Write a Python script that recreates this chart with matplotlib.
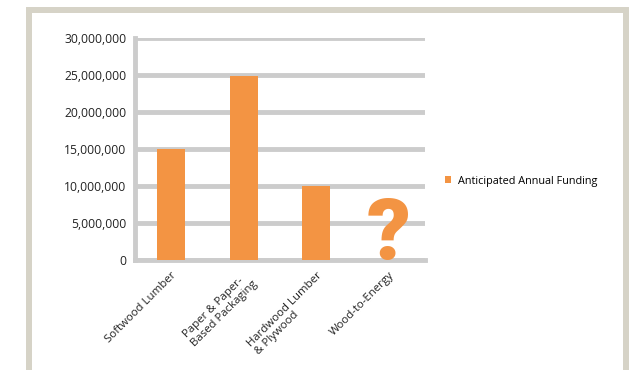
import numpy as np
import matplotlib.pyplot as plt
from matplotlib.patches import Rectangle
from matplotlib.ticker import FuncFormatter

categories = ['Softwood Lumber', 'Paper & Paper-\nBased Packaging',
              'Hardwood Lumber\n& Plywood', 'Wood-to-Energy']
funding = [15000000, 24800000, 10000000, 0]
unknown = [False, False, False, True]
series_name = 'Anticipated Annual Funding'

orange = '#f39443'
grid_grey = '#cccccc'

plt.rcParams['font.family'] = ['Open Sans', 'DejaVu Sans']

fig = plt.figure(figsize=(6.31, 3.70), dpi=100)
# outer frame (bottom edge runs off the image)
fig.patches.append(Rectangle((29 / 631, -2 / 370), 597 / 631, 362 / 370,
                             transform=fig.transFigure, fill=False,
                             edgecolor='#d6d3c7', linewidth=4.3))

ax = fig.add_axes([135 / 631, 1 - 260 / 370, 290 / 631, 222 / 370])
X = np.arange(len(categories))
ax.bar(X, funding, width=0.39, color=orange, label=series_name, zorder=3)
for x, u in zip(X, unknown):
    if u:
        ax.text(x, 0, '?', ha='center', va='baseline', fontsize=62,
                fontweight='black', family=['Roboto', 'DejaVu Sans'],
                color=orange, zorder=4)

ax.set_xlim(-0.5, len(X) - 0.5)
ax.set_ylim(0, 30000000)
ax.set_yticks(np.arange(0, 30000001, 5000000))
ax.yaxis.set_major_formatter(FuncFormatter(lambda v, p: '{:,.0f}'.format(v)))
ax.grid(True, axis='y', color=grid_grey, linewidth=3.5, zorder=0)
ax.set_axisbelow(True)
for s in ['top', 'right']:
    ax.spines[s].set_visible(False)
for s in ['left', 'bottom']:
    ax.spines[s].set_color(grid_grey)
    ax.spines[s].set_linewidth(3.5)
ax.tick_params(axis='y', length=0, labelsize=8.7, colors='#222222', pad=6)
ax.tick_params(axis='x', length=0, labelsize=8.2, colors='#222222', pad=7)
ax.set_xticks(X)
ax.set_xticklabels(categories, rotation=45, ha='right', rotation_mode='anchor',
                   multialignment='left', linespacing=1.1)

ax.legend(loc='center left', bbox_to_anchor=(1.035, 0.355), frameon=False,
          fontsize=7.8, handlelength=0.6, handleheight=0.6, handletextpad=0.6)

fig.savefig('out.png', dpi=100)
